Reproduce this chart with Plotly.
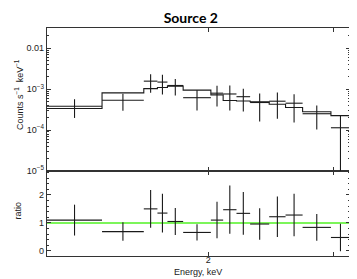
import numpy as np
import plotly.graph_objects as go

# ---- data ----
# bin edges in keV
edges = [0.614, 0.919, 1.248, 1.379, 1.484, 1.665, 2.040, 2.232, 2.461, 2.720,
         3.128, 3.526, 3.995, 4.917, 5.654]
# observed counts s^-1 keV^-1
counts = [3.83e-4, 5.37e-4, 1.57e-3, 1.49e-3, 1.23e-3, 6.19e-4, 7.98e-4, 7.63e-4,
          6.55e-4, 4.72e-4, 5.08e-4, 4.54e-4, 2.51e-4, 1.14e-4]
counts_err = [1.85e-4, 2.4e-4, 7.5e-4, 7.5e-4, 5.3e-4, 3.2e-4, 4.2e-4, 4.6e-4,
              3.7e-4, 3.1e-4, 3.2e-4, 3.0e-4, 1.47e-4, 1.2e-4]
counts_err_minus = [1.85e-4, 2.4e-4, 7.5e-4, 7.5e-4, 5.3e-4, 3.2e-4, 4.2e-4, 4.6e-4,
                    3.7e-4, 3.1e-4, 3.2e-4, 3.0e-4, 1.47e-4, 1.04e-4]
# model (folded) counts
model = [3.36e-4, 8.11e-4, 1.03e-3, 1.10e-3, 1.19e-3, 9.45e-4, 7.25e-4, 5.28e-4,
         5.14e-4, 4.94e-4, 4.29e-4, 3.56e-4, 2.81e-4, 2.26e-4]
# data/model ratio
ratio = [1.10, 0.69, 1.50, 1.35, 1.05, 0.66, 1.10, 1.47, 1.34, 0.96, 1.22, 1.28, 0.84, 0.48]
ratio_err = [0.55, 0.33, 0.67, 0.69, 0.48, 0.29, 0.65, 0.86, 0.76, 0.56, 0.72, 0.76, 0.48, 0.49]

ytick_vals = [1e-5, 1e-4, 1e-3, 0.01]
ytick_text = ["10<sup>\u22125</sup>", "10<sup>\u22124</sup>", "10<sup>\u22123</sup>", "0.01"]
rtick_vals = [0, 1, 2]
xtick_vals = [2]
xtick_text = ["2"]
xtick_unlabeled = [5]

# ---- derived ----
lo = np.array(edges[:-1]); hi = np.array(edges[1:])
ctr = np.sqrt(lo * hi)
xe_plus = hi - ctr
xe_minus = ctr - lo

LC = "#1a1a1a"
FONT = "Liberation Sans, Arial, sans-serif"
fig = go.Figure()

# model step (upper)
fig.add_trace(go.Scatter(x=edges, y=model + [model[-1]], mode="lines", line_shape="hv",
                         line=dict(color=LC, width=1.1), xaxis="x2", yaxis="y2",
                         showlegend=False, hoverinfo="skip"))
# data crosses (upper)
fig.add_trace(go.Scatter(x=ctr, y=counts, mode="markers", marker=dict(size=0.1, color=LC),
                         error_x=dict(type="data", array=xe_plus, arrayminus=xe_minus,
                                      symmetric=False, color=LC, thickness=1.1, width=0),
                         error_y=dict(type="data", array=counts_err, arrayminus=counts_err_minus,
                                      symmetric=False, color=LC, thickness=1.1, width=0),
                         xaxis="x2", yaxis="y2", showlegend=False))
# ratio unity line
fig.add_trace(go.Scatter(x=[edges[0], edges[-1]], y=[1, 1], mode="lines",
                         line=dict(color="#7cf55a", width=2), xaxis="x", yaxis="y",
                         showlegend=False, hoverinfo="skip"))
# ratio crosses
fig.add_trace(go.Scatter(x=ctr, y=ratio, mode="markers", marker=dict(size=0.1, color=LC),
                         error_x=dict(type="data", array=xe_plus, arrayminus=xe_minus,
                                      symmetric=False, color=LC, thickness=1.1, width=0),
                         error_y=dict(type="data", array=ratio_err, color=LC,
                                      thickness=1.1, width=0),
                         xaxis="x", yaxis="y", showlegend=False))

xr = [np.log10(edges[0]), np.log10(edges[-1])]
split = 0.3728
common = dict(showline=True, linecolor="#333", linewidth=1.3, mirror="allticks",
              ticks="inside", tickcolor="#333", showgrid=False, zeroline=False,
              tickfont=dict(family=FONT, size=9, color="#222"))
xminor = dict(ticks="inside", ticklen=4, tickcolor="#333", tickvals=xtick_unlabeled)

fig.update_layout(
    width=357, height=279,
    margin=dict(l=39, r=15, t=20, b=31),
    paper_bgcolor="white", plot_bgcolor="white",
    xaxis=dict(type="log", range=xr, tickvals=xtick_vals, ticktext=xtick_text,
               ticklen=4, anchor="y", domain=[0, 1], minor=xminor,
               ticklabelstandoff=-5, **common),
    xaxis2=dict(type="log", range=xr, tickvals=xtick_vals, showticklabels=False,
                ticklen=4, anchor="y2", domain=[0, 1], matches="x", minor=xminor, **common),
    yaxis=dict(range=[-0.18, 2.85], tickvals=rtick_vals, ticklen=4, anchor="x",
               domain=[0, split],
               minor=dict(ticks="inside", ticklen=2, dtick=0.2, tickcolor="#333"),
               **common),
    yaxis2=dict(type="log", range=[-5, -1.505], tickvals=ytick_vals, ticktext=ytick_text,
                ticklen=4, anchor="x2", domain=[split, 1],
                minor=dict(ticks="inside", ticklen=2, tickcolor="#333",
                           tickvals=[m * 10.0 ** e for e in (-5, -4, -3, -2) for m in range(2, 10)]),
                **common),
    title=dict(text="<b>Source 2</b>", x=0.512, xref="container", y=0.964, yref="container",
               xanchor="center", yanchor="middle",
               font=dict(family="Lato, Carlito, sans-serif", size=14, color="black")),
    annotations=[
        dict(text="Counts s<sup>\u22121</sup>  keV<sup>\u22121</sup>", textangle=-90,
             xref="paper", yref="paper", x=-0.092, y=0.7065, showarrow=False,
             xanchor="center", yanchor="middle", font=dict(family=FONT, size=9, color="#222")),
        dict(text="ratio", textangle=-90, xref="paper", yref="paper", x=-0.097, y=0.198,
             showarrow=False, xanchor="center", yanchor="middle",
             font=dict(family=FONT, size=9, color="#222")),
        dict(text="Energy, keV", xref="paper", yref="paper", x=0.498, y=-0.068,
             showarrow=False, xanchor="center", yanchor="middle",
             font=dict(family=FONT, size=9, color="#222")),
    ],
)

fig.write_html("out.html")
